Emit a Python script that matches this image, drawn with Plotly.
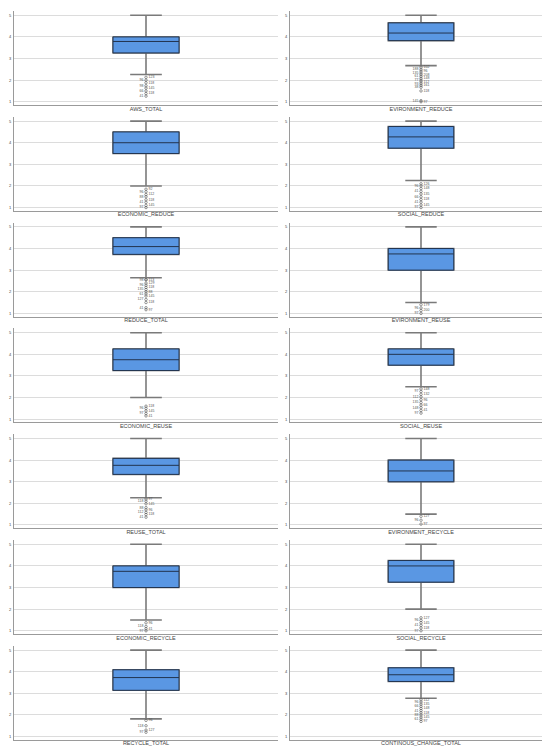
import plotly.graph_objects as go

W, H = 550, 749

names = ["AWS_TOTAL", "EVIRONMENT_REDUCE", "ECONOMIC_REDUCE", "SOCIAL_REDUCE",
         "REDUCE_TOTAL", "EVIRONMENT_REUSE", "ECONOMIC_REUSE", "SOCIAL_REUSE",
         "REUSE_TOTAL", "EVIRONMENT_RECYCLE", "ECONOMIC_RECYCLE", "SOCIAL_RECYCLE",
         "RECYCLE_TOTAL", "CONTINOUS_CHANGE_TOTAL"]
q1 = [3.26, 3.83, 3.50, 3.75, 3.73, 3.00, 3.25, 3.50, 3.34, 3.00, 3.00, 3.25, 3.14, 3.55]
median = [3.79, 4.18, 4.00, 4.27, 4.09, 3.75, 3.75, 4.00, 3.76, 3.50, 3.75, 4.00, 3.73, 3.86]
q3 = [4.00, 4.65, 4.50, 4.75, 4.50, 4.00, 4.25, 4.25, 4.08, 4.00, 4.00, 4.25, 4.09, 4.18]
lower_whisker = [2.26, 2.67, 2.00, 2.25, 2.65, 1.50, 2.00, 2.50, 2.26, 1.50, 1.50, 2.00, 1.82, 2.77]
upper_whisker = [5.0] * 14

outliers = [
    [2.13, 2.00, 1.88, 1.74, 1.63, 1.50, 1.38, 1.26],
    [2.60, 2.50, 2.42, 2.33, 2.25, 2.17, 2.08, 2.00, 1.92, 1.83, 1.75, 1.67, 1.50, 1.05, 1.00],
    [1.85, 1.73, 1.60, 1.50, 1.36, 1.24, 1.10, 1.00],
    [2.10, 2.00, 1.88, 1.75, 1.63, 1.50, 1.37, 1.25, 1.12, 1.00],
    [2.56, 2.55, 2.40, 2.30, 2.20, 2.10, 2.00, 1.90, 1.80, 1.64, 1.50, 1.26, 1.17],
    [1.40, 1.25, 1.13, 1.00],
    [1.60, 1.50, 1.38, 1.26, 1.15],
    [2.40, 2.28, 2.15, 2.03, 1.90, 1.77, 1.65, 1.53, 1.40, 1.28],
    [2.20, 2.10, 1.98, 1.80, 1.70, 1.58, 1.48, 1.36],
    [1.40, 1.22, 1.04],
    [1.37, 1.20, 1.09, 1.00],
    [1.60, 1.48, 1.37, 1.25, 1.13, 1.00],
    [1.75, 1.50, 1.30, 1.20],
    [2.70, 2.60, 2.50, 2.40, 2.30, 2.20, 2.10, 2.00, 1.90, 1.80, 1.70],
]
outlier_labels = [
    ["123", "96", "118", "98", "145", "66", "118", "41"],
    ["102", "188", "96", "135", "208", "61", "148", "77", "112", "93", "161", "38", "118", "145", "97"],
    ["92", "96", "112", "88", "118", "41", "145", "97"],
    ["126", "96", "148", "41", "135", "66", "118", "41", "145", "97"],
    ["113", "98", "129", "96", "118", "135", "88", "61", "145", "127", "118", "41", "97"],
    ["179", "96", "200", "97"],
    ["118", "96", "145", "97", "41"],
    ["148", "97", "132", "112", "96", "135", "66", "148", "41", "97"],
    ["97", "118", "145", "88", "96", "112", "118", "41"],
    ["127", "96", "97"],
    ["96", "118", "41", "97"],
    ["127", "96", "145", "41", "118", "97"],
    ["96", "118", "127", "97"],
    ["112", "96", "135", "66", "148", "41", "118", "88", "145", "61", "97"],
]

ytick_vals = [1, 2, 3, 4, 5]

box_fill = "#5a97e3"
line_col = "#22344f"
whisk_col = "#7a7a7a"
grid_col = "#dcdcdc"
font_fam = "Liberation Sans, Arial, sans-serif"

fig = go.Figure()

x_doms = [(6 / W, 270 / W), (282 / W, 544 / W)]
row_pitch = 105.8
plot_h = 94.0
top0 = 3.0

layout_axes = {}
for i, name in enumerate(names):
    r, c = divmod(i, 2)
    k = i + 1
    xa = "x" if k == 1 else f"x{k}"
    ya = "y" if k == 1 else f"y{k}"
    top = top0 + r * row_pitch
    bot = top + plot_h
    # whiskers (grey)
    fig.add_trace(go.Box(
        x=[name], q1=[q1[i]], median=[median[i]], q3=[q3[i]],
        lowerfence=[lower_whisker[i]], upperfence=[upper_whisker[i]],
        fillcolor=box_fill, line=dict(color=whisk_col, width=1.6),
        whiskerwidth=0.48, width=0.25, boxpoints=False,
        xaxis=xa, yaxis=ya, showlegend=False, hoverinfo="skip",
    ))
    # box outline and median (dark)
    fig.add_trace(go.Box(
        x=[name], q1=[q1[i]], median=[median[i]], q3=[q3[i]],
        lowerfence=[q1[i]], upperfence=[q3[i]],
        fillcolor=box_fill, line=dict(color=line_col, width=1),
        whiskerwidth=0, width=0.25, boxpoints=False,
        xaxis=xa, yaxis=ya, showlegend=False, hoverinfo="skip",
    ))
    pos = ["middle right" if j % 2 == 0 else "middle left" for j in range(len(outliers[i]))]
    fig.add_trace(go.Scatter(
        x=[name] * len(outliers[i]), y=outliers[i], mode="markers+text",
        text=outlier_labels[i], textposition=pos,
        textfont=dict(size=3.5, color="#555", family=font_fam),
        marker=dict(symbol="circle-open", size=2.5, color="#555", line=dict(width=0.6)),
        xaxis=xa, yaxis=ya, showlegend=False, hoverinfo="skip", cliponaxis=False,
    ))
    layout_axes["xaxis" if k == 1 else f"xaxis{k}"] = dict(
        domain=list(x_doms[c]), anchor=ya, type="category",
        range=[-0.5, 0.5], showgrid=False, showline=True, linecolor="#9a9a9a",
        linewidth=1, ticks="", ticklen=0,
        tickfont=dict(size=5.5, color="#444", family=font_fam),
        ticklabelstandoff=-2, fixedrange=True,
    )
    layout_axes["yaxis" if k == 1 else f"yaxis{k}"] = dict(
        domain=[1 - bot / H, 1 - top / H], anchor=xa, range=[0.85, 5.2],
        tickvals=ytick_vals, showgrid=True, gridcolor=grid_col, gridwidth=1,
        showline=True, linecolor="#9a9a9a", linewidth=1, ticks="",
        tickfont=dict(size=4, color="#444", family=font_fam), zeroline=False,
        fixedrange=True, ticklabelstandoff=1,
    )

fig.update_layout(
    width=W, height=H, margin=dict(l=0, r=0, t=0, b=0),
    paper_bgcolor="white", plot_bgcolor="white",
    font=dict(family=font_fam), **layout_axes,
)

fig.write_html("out.html")
